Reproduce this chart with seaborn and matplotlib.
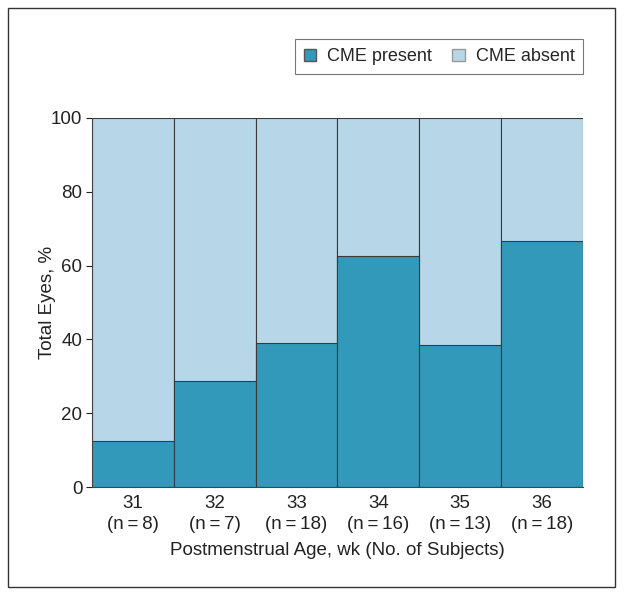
import matplotlib
matplotlib.use("Agg")
import matplotlib.pyplot as plt
import matplotlib.patches as mpatches
import seaborn as sns
import pandas as pd

# data
ages = ["31", "32", "33", "34", "35", "36"]
subjects = [8, 7, 18, 16, 13, 18]
cme_present = [12.5, 28.6, 38.9, 62.5, 38.5, 66.7]
total = [100, 100, 100, 100, 100, 100]

dark = "#3399bb"
light = "#b7d7e8"
edge = "#3a3a3a"

sns.set_style("ticks")
plt.rcParams["font.family"] = ["Liberation Sans", "DejaVu Sans"]

df = pd.DataFrame({"age": ages, "present": cme_present, "total": total})

fig = plt.figure(figsize=(6.24, 5.95), dpi=100)
ax = fig.add_axes([0.1474, 0.1815, 0.7866, 0.6202])

sns.barplot(data=df, x="age", y="total", color=light, width=1.0,
            edgecolor=edge, linewidth=0.8, saturation=1, ax=ax)
sns.barplot(data=df, x="age", y="present", color=dark, width=1.0,
            edgecolor=edge, linewidth=0.8, saturation=1, ax=ax)

ax.set_xlim(-0.5, 5.5)
ax.set_ylim(0, 100)
ax.set_yticks([0, 20, 40, 60, 80, 100])
ax.set_xticks(range(len(ages)))
ax.set_xticklabels([f"{a}\n(n\u2009=\u2009{n})" for a, n in zip(ages, subjects)])
ax.tick_params(axis="x", length=0, pad=6, labelsize=13.5, colors="#222222")
ax.tick_params(axis="y", length=4, width=0.8, pad=3, labelsize=13.5, colors="#222222")
for lbl in ax.get_xticklabels():
    lbl.set_linespacing(1.3)

ax.set_xlabel("Postmenstrual Age, wk (No. of Subjects)", fontsize=13.5, color="#222222", labelpad=6)
ax.set_ylabel("Total Eyes, %", fontsize=13.5, color="#222222")
ax.yaxis.set_label_coords(-0.074, 0.5)

sns.despine(ax=ax, top=True, right=True)
ax.spines["left"].set_color("#444444")
ax.spines["bottom"].set_color("#444444")
ax.spines["left"].set_linewidth(0.8)
ax.spines["bottom"].set_linewidth(0.8)

handles = [mpatches.Patch(facecolor=dark, edgecolor="#555555", label="CME present"),
           mpatches.Patch(facecolor=light, edgecolor="#999999", label="CME absent")]
leg = fig.legend(handles=handles, loc="upper right", bbox_to_anchor=(0.935, 0.934),
                 borderaxespad=0, ncol=2, frameon=True, fancybox=False, fontsize=13,
                 handlelength=0.7, handleheight=0.7, columnspacing=1.1,
                 borderpad=0.5, handletextpad=0.6)
leg.get_frame().set_edgecolor("#555555")
leg.get_frame().set_linewidth(0.8)

# outer border
fig.patches.append(mpatches.Rectangle((8 / 624, 8 / 595), 607 / 624, 579 / 595,
                                      transform=fig.transFigure, fill=False,
                                      edgecolor="#333333", linewidth=1.0))

fig.savefig("out.png", dpi=100)
